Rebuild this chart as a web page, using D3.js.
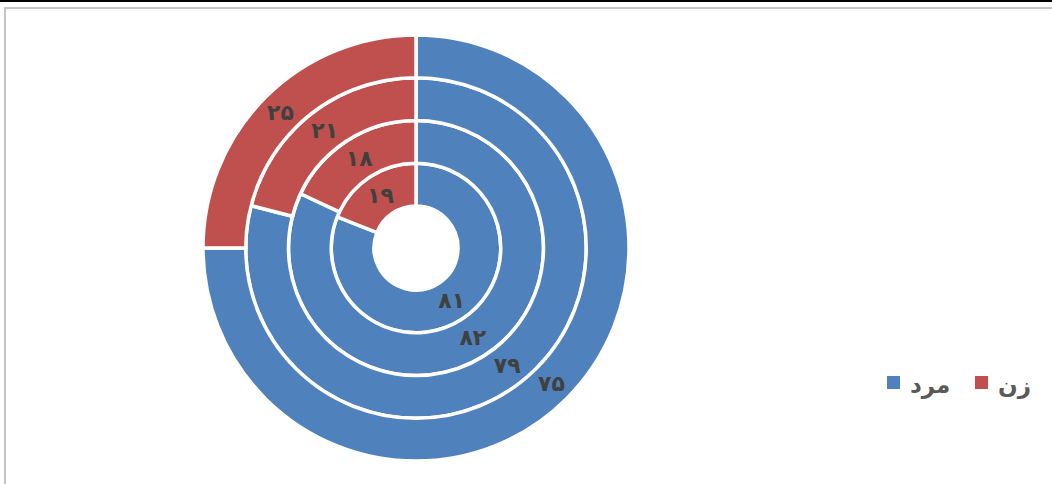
<!DOCTYPE html>
<html>
<head>
<meta charset="utf-8">
<script src="https://cdn.jsdelivr.net/npm/d3@7"></script>
<style>
  html, body { margin: 0; padding: 0; background: #fff; }
  svg { display: block; }
</style>
</head>
<body>
<svg id="chart" width="1052" height="484"></svg>
<script>
// Series (inner ring first, outer ring last)
const categories = ["مرد", "زن"];
const rings = ["1", "2", "3", "4"];
const menValues = [81, 82, 79, 75];
const womenValues = [19, 18, 21, 25];
const colors = ["#4F81BD", "#C0504D"];

const svg = d3.select("#chart");
const W = 1052, H = 484;

// Frame: dark strip at top, light grey border
svg.append("rect").attr("x", 0).attr("y", 0).attr("width", W).attr("height", 2).attr("fill", "#000");
svg.append("rect").attr("x", 4).attr("y", 7).attr("width", W - 4).attr("height", 2).attr("fill", "#c4c4c4");
svg.append("rect").attr("x", 4).attr("y", 7).attr("width", 2).attr("height", H - 7).attr("fill", "#c4c4c4");

const cx = 416, cy = 248;
const holeR = 42, outerR = 213;
const ringW = (outerR - holeR) / rings.length;

const toFa = n => String(n).replace(/\d/g, d => "۰۱۲۳۴۵۶۷۸۹"[d]);

const pie = d3.pie().sort(null).value(d => d.value);
const g = svg.append("g").attr("transform", `translate(${cx},${cy})`);

rings.forEach((r, i) => {
  const data = [
    { cat: 0, value: menValues[i] },
    { cat: 1, value: womenValues[i] }
  ];
  const inner = holeR + i * ringW, outer = holeR + (i + 1) * ringW;
  const arc = d3.arc().innerRadius(inner).outerRadius(outer);
  const labelArc = d3.arc().innerRadius((inner + outer) / 2).outerRadius((inner + outer) / 2);
  const arcs = pie(data);
  g.selectAll(null).data(arcs).enter().append("path")
    .attr("d", arc)
    .attr("fill", d => colors[d.data.cat])
    .attr("stroke", "#fff")
    .attr("stroke-width", 3.5)
    .attr("stroke-linejoin", "miter");
  g.selectAll(null).data(arcs).enter().append("text")
    .attr("transform", d => `translate(${labelArc.centroid(d)})`)
    .attr("text-anchor", "middle")
    .attr("dominant-baseline", "central")
    .attr("font-family", "DejaVu Sans, sans-serif")
    .attr("font-weight", "bold")
    .attr("font-size", 22)
    .attr("fill", "#404040")
    .text(d => toFa(d.data.value));
});

// Legend
const legend = svg.append("g");
const items = [
  { x: 887, cat: 0 },
  { x: 975, cat: 1 }
];
items.forEach(it => {
  legend.append("rect")
    .attr("x", it.x).attr("y", 376).attr("width", 13).attr("height", 13)
    .attr("fill", colors[it.cat]);
  legend.append("text")
    .attr("x", it.x + 23).attr("y", 385)
    .attr("dominant-baseline", "central")
    .attr("font-family", "DejaVu Sans, sans-serif")
    .attr("font-weight", "bold")
    .attr("font-size", 23)
    .attr("fill", "#595959")
    .text(categories[it.cat]);
});
</script>
</body>
</html>
